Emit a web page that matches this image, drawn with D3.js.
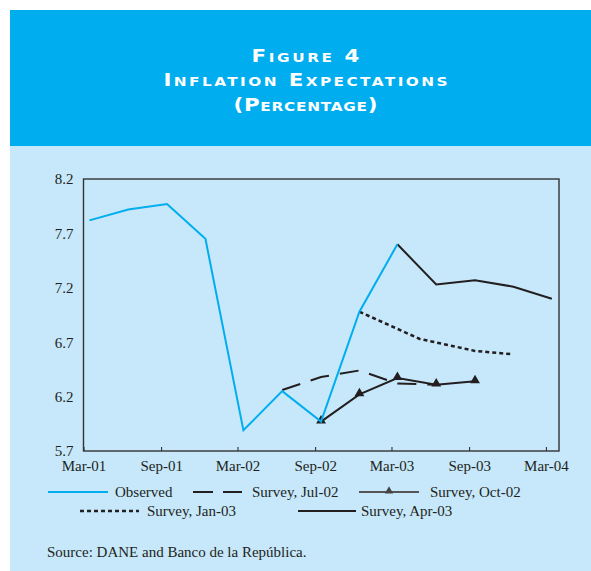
<!DOCTYPE html>
<html lang="en">
  <head>
    <meta charset="utf-8">
    <script src="https://d3js.org/d3.v7.min.js"></script>
    <title>Figure 4</title>
    <style>
      body { margin: 0; background: #fff; }
      svg { display: block; }
    </style>
  </head>
  <body>
    <div id="chart"></div>
    <script>
      // series values (month stamps are mid-month)
      var obsDates   = ["2001-03-15","2001-06-15","2001-09-15","2001-12-15","2002-03-15","2002-06-15","2002-09-15","2002-12-15","2003-03-15"];
      var obsValues  = [7.82, 7.92, 7.97, 7.65, 5.89, 6.25, 5.97, 6.98, 7.60];

      var jul02Dates  = ["2002-06-15","2002-09-15","2002-12-15","2003-03-15","2003-06-15"];
      var jul02Values = [6.26, 6.38, 6.44, 6.32, 6.31];

      var oct02Dates  = ["2002-09-15","2002-12-15","2003-03-15","2003-06-15","2003-09-15"];
      var oct02Values = [5.97, 6.22, 6.37, 6.31, 6.34];

      var jan03Dates  = ["2002-12-15","2003-05-07","2003-09-15","2003-12-10"];
      var jan03Values = [6.98, 6.73, 6.62, 6.59];

      var apr03Dates  = ["2003-03-15","2003-06-15","2003-09-15","2003-12-15","2004-03-15"];
      var apr03Values = [7.60, 7.23, 7.27, 7.21, 7.10];

      var yTicks = [5.7, 6.2, 6.7, 7.2, 7.7, 8.2];
      var xTickDates = ["2001-03-01","2001-09-01","2002-03-01","2002-09-01","2003-03-01","2003-09-01","2004-03-01"];

      var titleLines = ["Figure 4", "Inflation Expectations", "(Percentage)"];
      var source = "Source: DANE and Banco de la República.";

      var parse = d3.timeParse("%Y-%m-%d");
      function zip(dates, vals) {
        return dates.map(function (d, i) { return { date: parse(d), value: vals[i] }; });
      }

      var series = [
        { name: "Observed",        pts: zip(obsDates, obsValues),     color: "#00aeef", width: 2,   dash: null,    marker: false },
        { name: "Survey, Jul-02",  pts: zip(jul02Dates, jul02Values), color: "#231f20", width: 2,   dash: "19,11", marker: false },
        { name: "Survey, Oct-02",  pts: zip(oct02Dates, oct02Values), color: "#231f20", width: 2,   dash: null,    marker: true },
        { name: "Survey, Jan-03",  pts: zip(jan03Dates, jan03Values), color: "#231f20", width: 2.5, dash: "4,3",   marker: false },
        { name: "Survey, Apr-03",  pts: zip(apr03Dates, apr03Values), color: "#231f20", width: 2,   dash: null,    marker: false }
      ];

      var W = 591, H = 571;
      var svg = d3.select("#chart").append("svg").attr("width", W).attr("height", H);

      // background panels
      svg.append("rect").attr("x", 10).attr("y", 10).attr("width", W - 10).attr("height", 136).attr("fill", "#00aeef");
      svg.append("rect").attr("x", 10).attr("y", 146).attr("width", W - 10).attr("height", H - 146).attr("fill", "#c6e8fa");

      // title (small caps, wide face -> stretch glyphs horizontally)
      var titleY = [62, 86, 111];
      var titleW = [108, 284, 144];
      var stretch = 1.22;
      svg.selectAll(".title").data(titleLines).enter().append("text")
        .attr("class", "title")
        .attr("transform", function (d, i) { return "translate(305.5," + titleY[i] + ") scale(" + stretch + ",1)"; })
        .attr("text-anchor", "middle")
        .attr("textLength", function (d, i) { return titleW[i] / stretch; })
        .attr("lengthAdjust", "spacing")
        .style("font-family", "'DejaVu Sans', sans-serif")
        .style("font-weight", "bold")
        .style("font-size", "17.5px")
        .style("font-variant", "small-caps")
        .style("fill", "#fff")
        .text(function (d) { return d; });

      var plotL = 83.5, plotR = 559, plotT = 179, plotB = 451;

      var x = d3.scaleTime()
        .domain([parse("2001-03-01"), parse("2004-04-01")])
        .range([plotL, plotR]);
      var y = d3.scaleLinear().domain([5.7, 8.2]).range([plotB, plotT]);

      var fontSerif = "'Liberation Serif', 'Times New Roman', serif";

      // x axis with inner ticks
      var xAxis = svg.append("g")
        .attr("transform", "translate(0," + plotB + ")")
        .call(d3.axisBottom(x).tickValues(xTickDates.map(parse)).tickSize(-4).tickPadding(9)
          .tickFormat(d3.timeFormat("%b-%y")));
      xAxis.select(".domain").remove();
      xAxis.selectAll("line").attr("stroke", "#231f20").attr("stroke-width", 1);
      xAxis.selectAll("text").style("font-family", fontSerif).style("font-size", "15px").attr("fill", "#231f20");

      var yAxis = svg.append("g")
        .attr("transform", "translate(" + plotL + ",0)")
        .call(d3.axisLeft(y).tickValues(yTicks).tickSize(0).tickPadding(10).tickFormat(d3.format(".1f")));
      yAxis.select(".domain").remove();
      yAxis.selectAll("text").style("font-family", fontSerif).style("font-size", "15px").attr("fill", "#231f20");

      // frame
      svg.append("rect")
        .attr("x", plotL).attr("y", plotT)
        .attr("width", plotR - plotL).attr("height", plotB - plotT)
        .attr("fill", "none").attr("stroke", "#333").attr("stroke-width", 1.4);

      var line = d3.line()
        .x(function (d) { return x(d.date); })
        .y(function (d) { return y(d.value); });

      // draw surveys first, observed on top
      var order = [1, 3, 4, 2, 0];
      order.forEach(function (k) {
        var s = series[k];
        svg.append("path")
          .datum(s.pts)
          .attr("d", line)
          .attr("fill", "none")
          .attr("stroke", s.color)
          .attr("stroke-width", s.width)
          .attr("stroke-dasharray", s.dash)
          .attr("stroke-linejoin", "miter");
        if (s.marker) {
          svg.selectAll(null).data(s.pts).enter().append("path")
            .attr("d", d3.symbol().type(d3.symbolTriangle).size(42))
            .attr("transform", function (d) { return "translate(" + x(d.date) + "," + (y(d.value) - 1) + ")"; })
            .attr("fill", "#231f20");
        }
      });

      // legend
      var legendPos = [
        { x1: 48,  x2: 108, tx: 115, y: 492 },
        { x1: 193, x2: 242, tx: 252, y: 492 },
        { x1: 359, x2: 419, tx: 430, y: 492 },
        { x1: 80,  x2: 139, tx: 147, y: 511 },
        { x1: 298, x2: 356, tx: 361, y: 511 }
      ];
      var lg = svg.selectAll(".legend").data(series).enter().append("g").attr("class", "legend");
      lg.append("line")
        .attr("x1", function (d, i) { return legendPos[i].x1; })
        .attr("x2", function (d, i) { return legendPos[i].x2; })
        .attr("y1", function (d, i) { return legendPos[i].y; })
        .attr("y2", function (d, i) { return legendPos[i].y; })
        .attr("stroke", function (d) { return d.marker ? "#555" : d.color; })
        .attr("stroke-width", function (d) { return d.width; })
        .attr("stroke-dasharray", function (d) { return d.dash === "19,11" ? "20,10" : d.dash; });
      lg.filter(function (d) { return d.marker; }).append("path")
        .attr("d", d3.symbol().type(d3.symbolTriangle).size(30))
        .attr("transform", "translate(389," + (legendPos[2].y - 1) + ")")
        .attr("fill", "#444");
      lg.append("text")
        .attr("x", function (d, i) { return legendPos[i].tx; })
        .attr("y", function (d, i) { return legendPos[i].y + 5; })
        .style("font-family", fontSerif)
        .style("font-size", "15px")
        .attr("fill", "#231f20")
        .text(function (d) { return d.name; });

      svg.append("text")
        .attr("x", 47).attr("y", 557)
        .style("font-family", fontSerif)
        .style("font-size", "15px")
        .attr("fill", "#231f20")
        .text(source);
    </script>
  </body>
</html>
